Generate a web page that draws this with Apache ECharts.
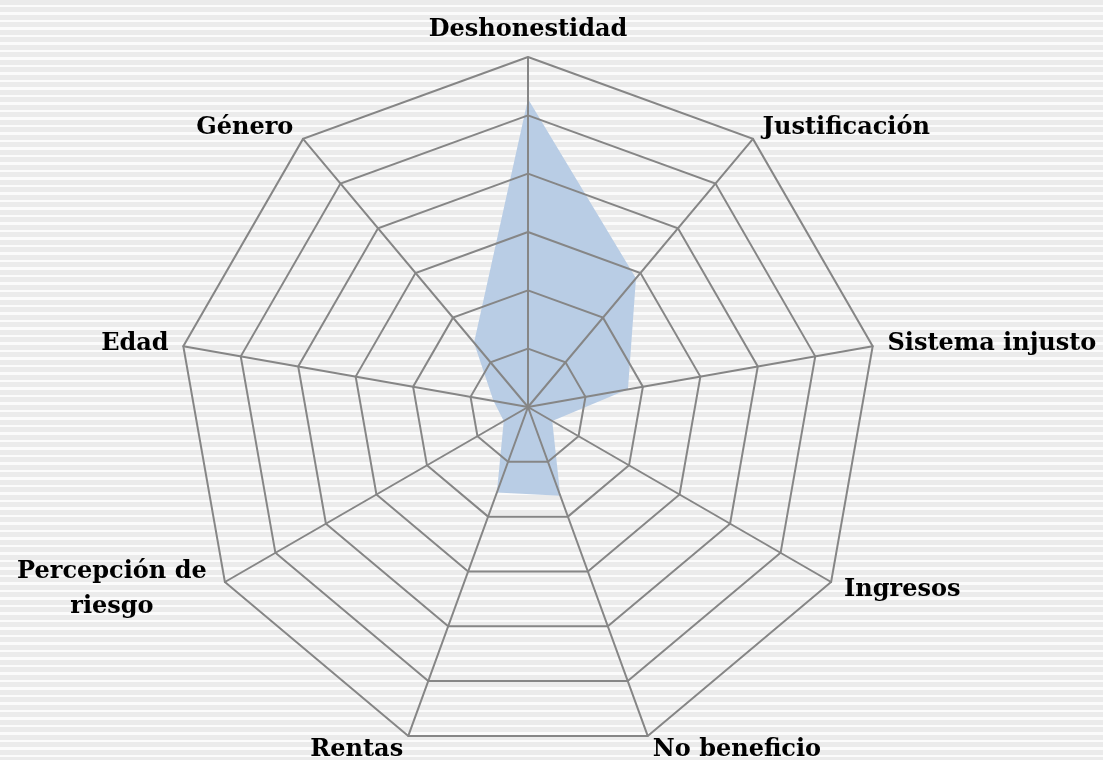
<!DOCTYPE html>
<html>
<head>
<meta charset="utf-8">
<script src="https://cdn.jsdelivr.net/npm/echarts@6/dist/echarts.min.js"></script>
<style>
  html, body { margin: 0; padding: 0; }
  #chart {
    width: 1103px;
    height: 760px;
    background: repeating-linear-gradient(to bottom, #ebebeb 0px, #ebebeb 5px, #fbfbfb 5px, #fbfbfb 7.5px);
  }
</style>
</head>
<body>
<div id="chart"></div>
<script>
// categories clockwise from the top, as they appear in the picture
const categories = ['Deshonestidad', 'Justificación', 'Sistema injusto', 'Ingresos',
  'No beneficio', 'Rentas', 'Percepción de\nriesgo', 'Edad', 'Género']
const values = [0.88, 0.48, 0.29, 0.08, 0.27, 0.26, 0.08, 0.10, 0.24]
const maxValue = 1

// echarts lays radar indicators out counter-clockwise, so flip the tail
const order = [0].concat(categories.map((c, i) => i).slice(1).reverse())
const indicators = order.map(i => ({ name: categories[i], max: maxValue }))
const seriesData = order.map(i => values[i])

const chart = echarts.init(document.getElementById('chart'))
chart.setOption({
  backgroundColor: 'transparent',
  animation: false,
  radar: {
    center: [528, 407],
    radius: 350,
    startAngle: 90,
    splitNumber: 6,
    shape: 'polygon',
    z: 3,
    indicator: indicators,
    nameGap: 15,
    axisName: {
      color: '#000',
      fontFamily: 'DejaVu Serif',
      fontWeight: 'bold',
      fontSize: 24,
      formatter: name => {
        if (name.indexOf('\n') < 0) return name
        return name.split('\n').map(s => '{c|' + s + '}').join('\n')
      },
      rich: {
        c: {
          width: 200,
          align: 'center',
          color: '#000',
          fontFamily: 'DejaVu Serif',
          fontWeight: 'bold',
          fontSize: 24,
          lineHeight: 35
        }
      }
    },
    axisLine: { lineStyle: { color: '#868686', width: 2 } },
    splitLine: { lineStyle: { color: '#868686', width: 2 } },
    splitArea: { show: false },
    axisTick: { show: false },
    axisLabel: { show: false }
  },
  series: [{
    type: 'radar',
    z: 1,
    symbol: 'none',
    lineStyle: { width: 0 },
    areaStyle: { color: '#b9cde5', opacity: 1 },
    data: [{ value: seriesData }]
  }]
})
</script>
</body>
</html>
